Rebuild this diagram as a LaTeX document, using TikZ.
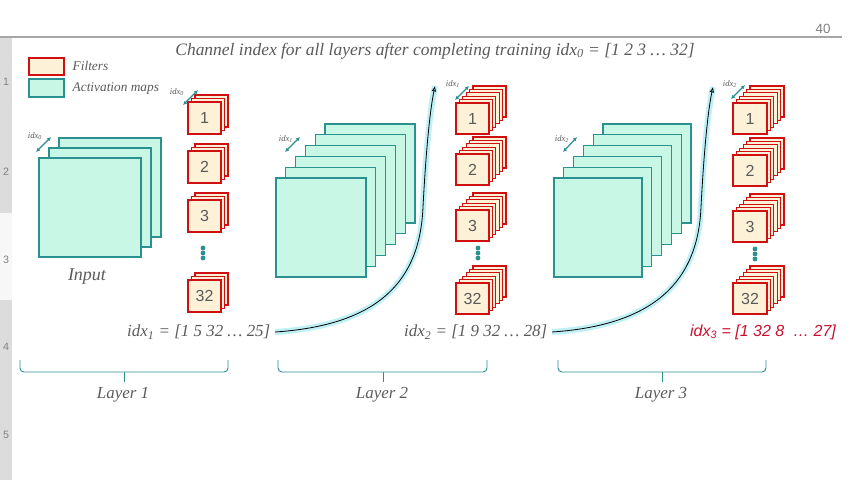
\documentclass[tikz,border=0pt]{standalone}
\usepackage{fontspec}
\setmainfont{Liberation Serif}
\newfontfamily\arialfont{Liberation Sans}
\usetikzlibrary{arrows.meta}
\definecolor{mapFill}{HTML}{C8F7E6}
\definecolor{mapLine}{HTML}{2A9090}
\definecolor{filterFill}{HTML}{FDF1D8}
\definecolor{filterLine}{HTML}{D01010}
\definecolor{idxRed}{HTML}{C8102E}
\definecolor{linkGlow}{HTML}{BFF0F6}
\definecolor{textGray}{HTML}{5A5A5A}
\definecolor{rulerGray}{HTML}{DCDCDC}

\begin{document}
\begin{tikzpicture}[x=0.75pt, y=-0.75pt,
    mapStyle/.style={draw=mapLine, fill=mapFill, line width=0.8pt},
    filterStyle/.style={draw=filterLine, fill=filterFill, line width=0.8pt},
    numStyle/.style={font=\arialfont\fontsize{12}{12}\selectfont, text=textGray},
    labelStyle/.style={font=\itshape\fontsize{12.7}{14}\selectfont, text=textGray},
    smallIdx/.style={font=\itshape\fontsize{6.5}{7}\selectfont, text=textGray, inner sep=0pt},
    idxArrow/.style={{Latex[length=3pt,width=3pt]}-{Latex[length=3pt,width=3pt]}, draw=mapLine, line width=0.9pt},
    linkStyle/.style={draw=black, line width=0.6pt, -{Latex[open,length=4pt,width=3.5pt]},
        preaction={draw=linkGlow, line width=4.5pt, -}},
    braceStyle/.style={draw=mapLine, line width=0.7pt, rounded corners=3pt}]
\useasboundingbox (0,0) rectangle (853,480);

% ruler and page frame
\fill[rulerGray] (0,37) rectangle (12,480);
\fill[gray!6] (0,213) rectangle (12,300);
\foreach \n/\y in {1/82,2/172,3/260,4/347,5/435}
    \node[font=\arialfont\fontsize{8}{8}\selectfont, text=gray] (ruler\n) at (6,\y) {\n};
\draw[gray!70, line width=0.8pt] (0,37) -- (842,37);
\node[font=\arialfont\fontsize{10}{10}\selectfont, text=gray] (pageNum) at (823,29) {40};

% title
\node[labelStyle, font=\itshape\fontsize{13.1}{15}\selectfont] (title) at (435,51) {Channel index for all layers after completing training idx\textsubscript{0} = [1 2 3 \ldots{} 32]};

% legend
\draw[filterStyle] (29,58) rectangle (64,75);
\node[labelStyle, font=\itshape\fontsize{10}{12}\selectfont, anchor=west] (legFilters) at (68,66) {Filters};
\draw[mapStyle] (29,79) rectangle (64,97);
\node[labelStyle, font=\itshape\fontsize{10}{12}\selectfont, anchor=west] (legMaps) at (68,88) {Activation maps};

% layer 1: input maps
\foreach \k in {2,1,0}
    \draw[mapStyle] ({39+10*\k},{158-10*\k}) rectangle ++(102,99);
\node[smallIdx] (idx0Map) at (35,136) {idx\textsubscript{0}};
\draw[idxArrow] (36,152) -- (51,137);
\node[labelStyle, font=\itshape\fontsize{13.5}{15}\selectfont] (input) at (87,277) {Input};

% layer 1: filters
\foreach \num/\top in {1/102,2/151,3/200,32/280} {
    \foreach \k in {2,1,0}
        \draw[filterStyle] ({188+3.5*\k},{\top-3.5*\k}) rectangle ++(33,32);
    \node[numStyle] (fA\num) at (204.5,{\top+16}) {\num};
}
\foreach \y in {248,253,258}
    \fill[mapLine] (203,\y) circle (1.8pt);
\node[smallIdx] (idx0Filt) at (177,92) {idx\textsubscript{0}};
\draw[idxArrow] (183,105) -- (198,90);

% layer 2: maps
\foreach \k in {5,...,0}
    \draw[mapStyle] ({276+9.8*\k},{178-10.8*\k}) rectangle ++(90,99);
\node[smallIdx] (idx1Map) at (286,139) {idx\textsubscript{1}};
\draw[idxArrow] (285,152) -- (300,137);

% layer 2: filters
\foreach \num/\top in {1/103,2/154,3/210,32/283} {
    \foreach \k in {5,...,0}
        \draw[filterStyle] ({456+3.4*\k},{\top-3.4*\k}) rectangle ++(33,31);
    \node[numStyle] (fB\num) at (472.5,{\top+15.5}) {\num};
}
\foreach \y in {248,253,258}
    \fill[mapLine] (478,\y) circle (1.8pt);
\node[smallIdx] (idx1Filt) at (453,84) {idx\textsubscript{1}};
\draw[idxArrow] (455,100) -- (469,86);

% layer 3: maps
\foreach \k in {5,...,0}
    \draw[mapStyle] ({554+9.8*\k},{178-10.8*\k}) rectangle ++(88,99);
\node[smallIdx] (idx2Map) at (562,139) {idx\textsubscript{2}};
\draw[idxArrow] (563,152) -- (577,137);

% layer 3: filters
\foreach \num/\top in {1/103,2/155,3/211,32/283} {
    \foreach \k in {5,...,0}
        \draw[filterStyle] ({733+3.4*\k},{\top-3.4*\k}) rectangle ++(34,31);
    \node[numStyle] (fC\num) at (750,{\top+15.5}) {\num};
}
\foreach \y in {249,254,259}
    \fill[mapLine] (755,\y) circle (1.8pt);
\node[smallIdx] (idx2Filt) at (730,84) {idx\textsubscript{2}};
\draw[idxArrow] (731,99) -- (745,85);

% index vectors
\node[labelStyle, anchor=east] (idx1Lbl) at (275,332) {idx\textsubscript{1} = [1 5 32 \ldots{} 25]};
\node[labelStyle, anchor=east] (idx2Lbl) at (552,332) {idx\textsubscript{2} = [1 9 32 \ldots{} 28]};
\node[font=\arialfont\itshape\fontsize{12}{14}\selectfont, text=idxRed] (idx3Lbl) at (763,332) {idx\textsubscript{3} = [1 32 8 \ \ldots{} 27]};

% links to next layer
\coordinate (link2End) at (435,86);
\coordinate (link3End) at (713,87);
\draw[linkStyle] (idx1Lbl.east) .. controls (380,325) and (420,280) .. (423,207)
    .. controls (426,150) and (430,110) .. (link2End);
\draw[linkStyle] (idx2Lbl.east) .. controls (656,325) and (698,280) .. (701,207)
    .. controls (704,150) and (708,110) .. (link3End);

% layer braces
\foreach \a/\b/\m/\n in {20/228/124/1,278/487/383/2,558/766/662/3} {
    \draw[braceStyle] (\a,360) -- (\a,372) -- (\b,372) -- (\b,360);
    \draw[braceStyle] (\m,372) -- (\m,382);
    \node[labelStyle] (layer\n) at ({\m-1},395) {Layer \n};
}
\end{tikzpicture}
\end{document}
